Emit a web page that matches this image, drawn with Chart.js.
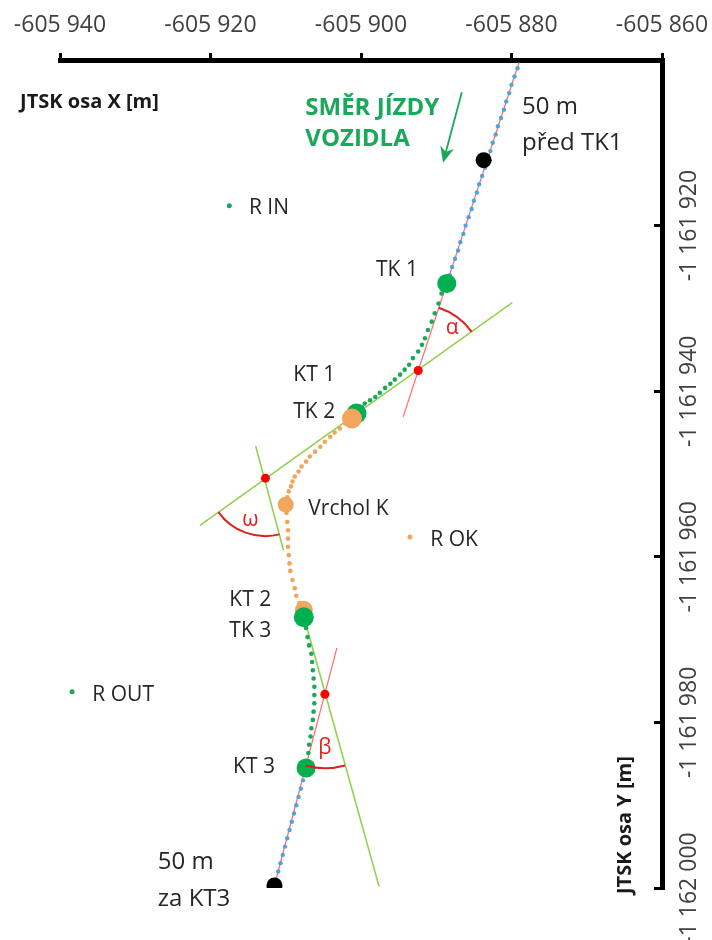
<!DOCTYPE html>
<html>
<head>
<meta charset="utf-8">
<script src="https://cdn.jsdelivr.net/npm/chart.js@4.4.1/dist/chart.umd.min.js"></script>
<style>
  html, body { margin: 0; padding: 0; background: #fff; }
  #wrap { width: 712px; height: 940px; position: relative; }
</style>
</head>
<body>
<div id="wrap"><canvas id="trasa"></canvas></div>
<script>
// osy JTSK
const xTicks = [-605940, -605920, -605900, -605880, -605860];
const yTicks = [-1162000, -1161980, -1161960, -1161940, -1161920, -1161900];

// přímá před TK1 (modré body)
const blueBefore = [
  [-605879.2, -1161901], [-605879.6, -1161902], [-605880.0, -1161903], [-605880.3, -1161904],
  [-605880.7, -1161905], [-605881.0, -1161906], [-605881.4, -1161907], [-605881.8, -1161908],
  [-605882.1, -1161909], [-605882.5, -1161910], [-605882.8, -1161911], [-605883.2, -1161912],
  [-605883.5, -1161913], [-605883.9, -1161914], [-605884.3, -1161915], [-605884.6, -1161916],
  [-605885.0, -1161917], [-605885.3, -1161918], [-605885.7, -1161919], [-605886.1, -1161920],
  [-605886.4, -1161921], [-605886.8, -1161922], [-605887.1, -1161923], [-605887.5, -1161924],
  [-605887.9, -1161925], [-605888.2, -1161926]
];

// přechodnice 1 (TK1 -> KT1)
const greenIn = [
  [-605889.3, -1161928.2], [-605889.7, -1161929.4], [-605890.2, -1161930.6], [-605890.6, -1161931.6],
  [-605891.1, -1161932.6], [-605891.5, -1161933.6], [-605891.9, -1161934.4], [-605892.4, -1161935.2],
  [-605893.1, -1161936.0], [-605893.6, -1161936.8], [-605894.2, -1161937.4], [-605894.8, -1161938.0],
  [-605895.5, -1161938.6], [-605896.1, -1161939.1], [-605896.8, -1161939.6], [-605897.5, -1161940.2],
  [-605898.1, -1161940.7], [-605898.8, -1161941.1], [-605899.5, -1161941.5], [-605899.9, -1161941.9]
];

// kružnicový oblouk (TK2 -> KT2)
const orangeArc = [
  [-605902.1, -1161943.9], [-605902.8, -1161944.5], [-605903.5, -1161945.0], [-605904.1, -1161945.5],
  [-605904.8, -1161946.1], [-605905.4, -1161946.7], [-605906.1, -1161947.3], [-605906.8, -1161947.9],
  [-605907.3, -1161948.5], [-605907.9, -1161949.1], [-605908.3, -1161949.7], [-605908.8, -1161950.3],
  [-605909.1, -1161950.9], [-605909.3, -1161951.5], [-605909.6, -1161952.1], [-605909.8, -1161952.8],
  [-605909.9, -1161954.7], [-605909.8, -1161955.8], [-605909.7, -1161956.8], [-605909.7, -1161957.8],
  [-605909.7, -1161958.8], [-605909.6, -1161959.8], [-605909.5, -1161960.8], [-605909.4, -1161961.7],
  [-605909.1, -1161962.8], [-605908.8, -1161963.8], [-605908.6, -1161964.7], [-605908.2, -1161965.6]
];

// přechodnice 2 (TK3 -> KT3)
const greenOut = [
  [-605907.3, -1161968.6], [-605907.1, -1161969.7], [-605906.9, -1161970.7], [-605906.6, -1161971.7],
  [-605906.5, -1161972.7], [-605906.4, -1161973.7], [-605906.3, -1161974.7], [-605906.2, -1161975.7],
  [-605906.2, -1161976.7], [-605906.2, -1161977.7], [-605906.3, -1161978.7], [-605906.4, -1161979.7],
  [-605906.6, -1161980.7], [-605906.7, -1161981.7], [-605906.9, -1161982.7], [-605907.0, -1161983.7]
];

// přímá za KT3
const blueAfter = [
  [-605907.7, -1161987], [-605908.0, -1161988], [-605908.3, -1161989], [-605908.6, -1161990],
  [-605908.9, -1161991], [-605909.2, -1161992], [-605909.5, -1161993], [-605909.8, -1161994],
  [-605910.1, -1161995], [-605910.4, -1161996], [-605910.7, -1161997], [-605911.0, -1161998],
  [-605911.3, -1161999]
];

// hlavní body
const greenMain = [[-605888.6, -1161927.0], [-605907.6, -1161967.3], [-605907.3, -1161985.5]]; // TK1, TK3, KT3
const greenKT1 = [[-605900.6, -1161942.7]];                                                    // KT1
const orangeMain = [[-605901.2, -1161943.3], [-605910.0, -1161953.7], [-605907.6, -1161966.4]]; // TK2, Vrchol K, KT2
const blackEnds = [[-605883.7, -1161912.1], [-605911.5, -1161999.7]];                          // 50 m před / za
const greenCentres = [[-605917.5, -1161917.6], [-605938.4, -1161976.3]];                       // R IN, R OUT
const orangeCentre = [[-605893.5, -1161957.6]];                                                // R OK
const crossPoints = [[-605892.4, -1161937.5], [-605912.7, -1161950.5], [-605904.8, -1161976.6]];

// tečny
const redLineIn = [[-605879.0, -1161900.3], [-605894.4, -1161943.1]];
const redLineOut = [[-605911.5, -1161999.7], [-605903.2, -1161971.0]];
const greenLineMain = [[-605879.9, -1161929.3], [-605921.4, -1161956.2]];
const greenLineApex = [[-605914.0, -1161946.6], [-605910.3, -1161959.2]];
const greenLineOut = [[-605907.3, -1161968.2], [-605897.6, -1161999.8]];

// popisky
const pointLabels = [
  ["TK 1", -605898.0, -1161925.4], ["KT 1", -605909.0, -1161938.0], ["TK 2", -605909.0, -1161942.5],
  ["Vrchol K", -605907.0, -1161954.2], ["R OK", -605890.8, -1161958.0], ["KT 2", -605917.5, -1161965.2],
  ["TK 3", -605917.5, -1161969.0], ["KT 3", -605917.0, -1161985.4], ["R IN", -605914.9, -1161917.9],
  ["R OUT", -605935.7, -1161976.7]
];
const noteLabels = [
  ["50 m", -605878.6, -1161905.7], ["před TK1", -605878.6, -1161910.0],
  ["50 m", -605927.0, -1161996.9], ["za KT3", -605927.0, -1162001.3]
];
const directionLabels = [["SMĚR JÍZDY", -605907.4, -1161905.8], ["VOZIDLA", -605907.4, -1161909.5]];
const angleLabels = [["α", -605887.9, -1161932.4], ["ω", -605914.7, -1161955.6], ["β", -605904.8, -1161983.1]];
const arrow = [[-605886.6, -1161903.9], [-605889.1, -1161912.4]];
const axisTitleX = ["JTSK osa X [m]", -605945.3, -1161905.1];
const axisTitleY = ["JTSK osa Y [m]", -605864.9, -1161992.4];

const arcs = [
  { c: crossPoints[0], a: redLineIn[0], b: greenLineMain[0], r: 66 },
  { c: crossPoints[1], a: greenLineMain[1], b: greenLineApex[1], r: 58 },
  { c: crossPoints[2], a: redLineOut[0], b: greenLineOut[1], r: 74 }
];

const FONT = "'Open Sans', sans-serif";
Chart.defaults.font.family = FONT;

const pts = arr => arr.map(([x, y]) => ({ x, y }));
const dots = (arr, color, r, order) => ({
  data: pts(arr), showLine: false, pointRadius: r, pointHoverRadius: r,
  pointBackgroundColor: color, pointBorderWidth: 0, order: order
});
const seg = (arr, color, w, order) => ({
  data: pts(arr), showLine: true, borderColor: color, borderWidth: w, pointRadius: 0, order: order
});

// mezery po tisících
const fmt = v => (v < 0 ? "-" : "") + Math.abs(v).toFixed(0).replace(/\B(?=(\d{3})+(?!\d))/g, " ");

const overlay = {
  id: "overlay",
  afterDatasetsDraw(chart) {
    const { ctx, scales: { x, y } } = chart;
    const P = p => [x.getPixelForValue(p[0]), y.getPixelForValue(p[1])];
    ctx.save();

    // úhly
    ctx.strokeStyle = "#e0201c";
    ctx.lineWidth = 2;
    arcs.forEach(a => {
      const [cx, cy] = P(a.c), [ax, ay] = P(a.a), [bx, by] = P(a.b);
      const t1 = Math.atan2(ay - cy, ax - cx), t2 = Math.atan2(by - cy, bx - cx);
      ctx.beginPath();
      ctx.arc(cx, cy, a.r, Math.min(t1, t2), Math.max(t1, t2));
      ctx.stroke();
    });

    // šipka směru jízdy
    const [sx, sy] = P(arrow[0]), [ex, ey] = P(arrow[1]);
    const len = Math.hypot(ex - sx, ey - sy), ux = (ex - sx) / len, uy = (ey - sy) / len;
    ctx.strokeStyle = "#1aa85a";
    ctx.fillStyle = "#1aa85a";
    ctx.lineWidth = 1.8;
    ctx.beginPath();
    ctx.moveTo(sx, sy);
    ctx.lineTo(ex - ux * 10, ey - uy * 10);
    ctx.stroke();
    ctx.beginPath();
    ctx.moveTo(ex, ey);
    ctx.lineTo(ex - ux * 16 - uy * 7, ey - uy * 16 + ux * 7);
    ctx.lineTo(ex - ux * 11, ey - uy * 11);
    ctx.lineTo(ex - ux * 16 + uy * 7, ey - uy * 16 - ux * 7);
    ctx.closePath();
    ctx.fill();

    // texty
    const put = (list, font, color, align) => {
      ctx.font = font;
      ctx.fillStyle = color;
      ctx.textAlign = align;
      ctx.textBaseline = "middle";
      list.forEach(([t, vx, vy]) => {
        const [px, py] = P([vx, vy]);
        ctx.fillText(t, px, py);
      });
    };
    put(pointLabels, "21px " + FONT, "#262626", "left");
    put(noteLabels, "24px " + FONT, "#262626", "left");
    put(directionLabels, "bold 24px " + FONT, "#1aa85a", "left");
    put(angleLabels, "21px " + FONT, "#e0201c", "center");
    put([axisTitleX], "bold 20px " + FONT, "#1a1a1a", "left");

    const [tx, ty] = P([axisTitleY[1], axisTitleY[2]]);
    ctx.translate(tx, ty);
    ctx.rotate(-Math.PI / 2);
    ctx.font = "bold 20px " + FONT;
    ctx.fillStyle = "#1a1a1a";
    ctx.textAlign = "center";
    ctx.fillText(axisTitleY[0], 0, 0);
    ctx.restore();
  }
};

new Chart(document.getElementById("trasa"), {
  type: "scatter",
  data: {
    datasets: [
      dots(crossPoints, "#ff0000", 4.5, 0),
      dots(greenMain, "#00b050", [9.5, 10, 9.5], 1),
      dots(orangeMain, "#f2a55c", [10, 8, 9], 2),
      dots(greenKT1, "#00b050", 10, 3),
      dots(blackEnds, "#000000", 8, 4),
      dots(greenCentres, "#1aa85a", 2.5, 5),
      dots(orangeCentre, "#f2a55c", 2.5, 5),
      dots(blueBefore, "#4fa3df", 2.2, 6),
      dots(blueAfter, "#4fa3df", 2.2, 6),
      dots(greenIn, "#1aa85a", 2.3, 6),
      dots(greenOut, "#1aa85a", 2.3, 6),
      dots(orangeArc, "#f2a55c", 2.3, 6),
      seg(redLineIn, "#ff6a6a", 1.2, 7),
      seg(redLineOut, "#ff6a6a", 1.2, 7),
      seg(greenLineMain, "#92d050", 1.6, 7),
      seg(greenLineApex, "#92d050", 1.6, 7),
      seg(greenLineOut, "#92d050", 1.6, 7)
    ]
  },
  options: {
    responsive: true,
    maintainAspectRatio: false,
    animation: false,
    events: [],
    layout: { padding: { left: 60, bottom: 52, top: 0, right: 0 } },
    plugins: { legend: { display: false }, tooltip: { enabled: false } },
    scales: {
      x: {
        type: "linear",
        position: "top",
        min: -605940,
        max: -605860,
        afterBuildTicks: s => { s.ticks = xTicks.map(v => ({ value: v })); },
        afterFit: s => { s.height = 60; s.paddingLeft = 0; s.paddingRight = 0; },
        grid: { drawOnChartArea: false, tickLength: 7, tickColor: "#000", tickWidth: 3 },
        border: { color: "#000", width: 5 },
        ticks: { callback: fmt, font: { size: 23 }, color: "#404040", padding: 14, maxRotation: 0, autoSkip: false }
      },
      y: {
        type: "linear",
        position: "right",
        min: -1162000,
        max: -1161900,
        afterBuildTicks: s => { s.ticks = yTicks.map(v => ({ value: v })); },
        afterFit: s => { s.width = 50; s.paddingTop = 0; s.paddingBottom = 0; },
        grid: { drawOnChartArea: false, tickLength: -8, tickColor: "#000", tickWidth: 3 },
        border: { color: "#000", width: 5 },
        ticks: {
          callback: v => (v === -1161900 ? "" : fmt(v)),
          font: { size: 23 }, color: "#404040",
          minRotation: 90, maxRotation: 90, crossAlign: "center", padding: -20, autoSkip: false
        }
      }
    }
  },
  plugins: [overlay]
});
</script>
</body>
</html>
